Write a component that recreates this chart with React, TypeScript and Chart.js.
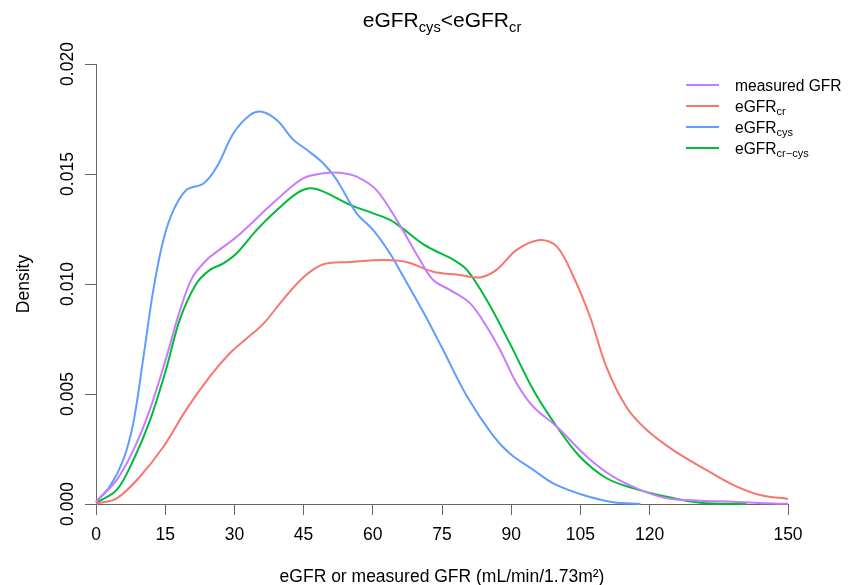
import React, { useEffect, useRef } from "react";
import { Chart, registerables } from "chart.js";

Chart.register(...registerables);

const FONT = "'Liberation Sans', Arial, Helvetica, sans-serif";

const xTickValues = [0, 15, 30, 45, 60, 75, 90, 105, 120, 150];
const yTickValues = [0, 0.005, 0.01, 0.015, 0.02];

const measuredGFR: [number, number][] = [
  [0, 0.0001], [4.5, 0.0011], [8.1, 0.00245], [11.7, 0.0043], [15.3, 0.0067],
  [18.2, 0.0088], [20.9, 0.0103], [24.0, 0.0111], [26.2, 0.01147], [30.5, 0.01215],
  [35.6, 0.01314], [39.9, 0.01397], [44.9, 0.0148], [49.3, 0.01503], [52.9, 0.01506],
  [56.5, 0.01488], [60.8, 0.01427], [65.5, 0.0128], [70.2, 0.0111], [73.1, 0.01018],
  [76.7, 0.00973], [81.1, 0.00912], [84.7, 0.00806], [87.6, 0.007], [91.2, 0.00548],
  [94.8, 0.00442], [99.9, 0.00351], [106.4, 0.00215], [112.1, 0.00124], [118, 0.00064],
  [123.7, 0.00026], [131, 0.00015], [138.2, 0.0001], [145.4, 0.00003], [150, 0.00001],
];

const eGFRcr: [number, number][] = [
  [0, 0.00002], [4.5, 0.00026], [9.5, 0.00124], [14.6, 0.0026], [19.6, 0.0043],
  [24.7, 0.0058], [29, 0.00685], [32.7, 0.00753], [36.3, 0.0082], [40.6, 0.0093],
  [44.9, 0.0103], [49.3, 0.0109], [55.1, 0.011], [62.3, 0.01109], [67.3, 0.011],
  [73.1, 0.01056], [78.9, 0.01041], [83.2, 0.0103], [86.8, 0.01064], [91.2, 0.01155],
  [96.2, 0.012], [99.9, 0.0117], [103.5, 0.01033], [107.1, 0.0085], [110.7, 0.0062],
  [115, 0.0044], [119.4, 0.00336], [125.1, 0.00245], [132.3, 0.00155], [138.2, 0.00086],
  [143.9, 0.00041], [150, 0.00023],
];

const eGFRcys: [number, number][] = [
  [0, 0.0001], [3.0, 0.0008], [5.9, 0.002], [8.1, 0.0037], [10.3, 0.0067],
  [12.4, 0.0097], [14.6, 0.012], [16.8, 0.01336], [19.6, 0.01427], [23.3, 0.01457],
  [26.2, 0.01533], [29.8, 0.01685], [33.4, 0.01768], [35.9, 0.01783], [39.2, 0.01745],
  [42.8, 0.01655], [45.7, 0.0161], [49.3, 0.01548], [52.2, 0.01473], [56.5, 0.01321],
  [60.1, 0.01245], [63.7, 0.0114], [65.9, 0.0106], [71, 0.0087], [75, 0.0071],
  [80.4, 0.0049], [86.1, 0.0031], [89.7, 0.0023], [94.8, 0.00155], [99.1, 0.00094],
  [105.6, 0.00041], [112.1, 0.00008], [118, 0],
];

const eGFRcrcys: [number, number][] = [
  [0, 0.00005], [4.5, 0.00064], [8.1, 0.002], [11.7, 0.0038], [15.3, 0.0062],
  [18.2, 0.0084], [21.8, 0.01003], [24.7, 0.01064], [27.6, 0.01094], [30.5, 0.0114],
  [34.8, 0.01245], [39.2, 0.01336], [43.5, 0.01412], [46.4, 0.01435], [49.3, 0.0142],
  [55.1, 0.0136], [60.1, 0.01321], [63.7, 0.01291], [66.3, 0.01255], [71, 0.0118],
  [74.6, 0.0114], [77.5, 0.0111], [80.4, 0.01064], [84.7, 0.00927], [89.7, 0.0073],
  [94.8, 0.00518], [99.9, 0.00351], [104.9, 0.00215], [110.7, 0.00117], [116.5, 0.00071],
  [123.7, 0.00033], [131, 0.00006], [141, 0],
];

const seriesColors = ["#C77CFF", "#F8766D", "#619CFF", "#00BA38"];
const legendMain = ["measured GFR", "eGFR", "eGFR", "eGFR"];
const legendSub = ["", "cr", "cys", "cr\u2212cys"];
const titleParts: [string, boolean][] = [["eGFR", false], ["cys", true], ["<eGFR", false], ["cr", true]];

type Seg = { text: string; size: number; dy: number };

function drawRich(ctx: CanvasRenderingContext2D, segs: Seg[], x: number, y: number, align: "left" | "center") {
  let total = 0;
  const widths = segs.map((s) => {
    ctx.font = `${s.size}px ${FONT}`;
    const w = ctx.measureText(s.text).width;
    total += w;
    return w;
  });
  let cx = align === "center" ? x - total / 2 : x;
  ctx.textAlign = "left";
  ctx.textBaseline = "alphabetic";
  segs.forEach((s, i) => {
    ctx.font = `${s.size}px ${FONT}`;
    ctx.fillText(s.text, cx, y + s.dy);
    cx += widths[i];
  });
}

const decorPlugin = {
  id: "decor",
  afterDraw(chart: any) {
    const ctx: CanvasRenderingContext2D = chart.ctx;
    const area = chart.chartArea;
    ctx.save();
    ctx.fillStyle = "#000";
    const tSize = 21;
    const tSub = 14.7;
    drawRich(
      ctx,
      titleParts.map(([t, sub]) => ({ text: t, size: sub ? tSub : tSize, dy: sub ? 4.5 : 0 })),
      (area.left + area.right) / 2,
      27,
      "center"
    );
    const lx0 = 686;
    const lx1 = 719;
    const tx = 735;
    for (let i = 0; i < 4; i++) {
      const ly = 85 + i * 21;
      ctx.strokeStyle = seriesColors[i];
      ctx.lineWidth = 2;
      ctx.beginPath();
      ctx.moveTo(lx0, ly);
      ctx.lineTo(lx1, ly);
      ctx.stroke();
      const segs: Seg[] = [{ text: legendMain[i], size: 15.6, dy: 0 }];
      if (legendSub[i]) segs.push({ text: legendSub[i], size: 11, dy: 3.5 });
      drawRich(ctx, segs, tx, ly + 5.5, "left");
    }
    ctx.restore();
  },
};

export default function App() {
  const ref = useRef<HTMLCanvasElement | null>(null);
  useEffect(() => {
    if (!ref.current) return;
    const series = [measuredGFR, eGFRcr, eGFRcys, eGFRcrcys];
    const names = ["measured GFR", "eGFRcr", "eGFRcys", "eGFRcr-cys"];
    const chart = new Chart(ref.current, {
      type: "line",
      data: {
        datasets: series.map((s, i) => ({
          label: names[i],
          data: s.map(([x, y]) => ({ x, y })),
          borderColor: seriesColors[i],
          backgroundColor: seriesColors[i],
          borderWidth: 2,
          pointRadius: 0,
          fill: false,
          tension: 0.35,
          clip: false as any,
        })),
      },
      options: {
        responsive: false,
        animation: false,
        events: [],
        layout: { padding: { top: 64, right: 68, left: 0, bottom: 0 } },
        plugins: {
          legend: { display: false },
          title: { display: false },
          tooltip: { enabled: false },
        },
        scales: {
          x: {
            type: "linear",
            min: 0,
            max: 150,
            afterBuildTicks: (scale: any) => {
              scale.ticks = xTickValues.map((v) => ({ value: v }));
            },
            afterFit: (scale: any) => {
              scale.height = 81;
            },
            grid: { drawOnChartArea: false, drawTicks: true, tickLength: 11, color: "#666", lineWidth: 1 },
            border: { display: true, color: "#666", width: 1 },
            ticks: {
              autoSkip: false,
              maxRotation: 0,
              minRotation: 0,
              padding: 10,
              color: "#000",
              font: { family: FONT, size: 17.5 },
              callback: (v: any) => String(v),
            },
            title: {
              display: true,
              text: "eGFR or measured GFR (mL/min/1.73m\u00B2)",
              color: "#000",
              font: { family: FONT, size: 17.5 },
              padding: { top: 0, bottom: -3 },
            },
          },
          y: {
            type: "linear",
            min: 0,
            max: 0.02,
            afterBuildTicks: (scale: any) => {
              scale.ticks = yTickValues.map((v) => ({ value: v }));
            },
            afterFit: (scale: any) => {
              scale.width = 96;
            },
            grid: { drawOnChartArea: false, drawTicks: true, tickLength: 11, color: "#666", lineWidth: 1 },
            border: { display: true, color: "#666", width: 1 },
            ticks: {
              autoSkip: false,
              minRotation: 90,
              maxRotation: 90,
              crossAlign: "center",
              padding: -5,
              color: "#000",
              font: { family: FONT, size: 17.5 },
              callback: (v: any) => Number(v).toFixed(3),
            },
            title: {
              display: true,
              text: "Density",
              color: "#000",
              font: { family: FONT, size: 17.5 },
              padding: { top: 14, bottom: 0 },
            },
          },
        },
      },
      plugins: [decorPlugin],
    } as any);
    return () => chart.destroy();
  }, []);
  return (
    <div style={{ position: "absolute", left: 0, top: 0, width: 856, height: 585, background: "#fff" }}>
      <canvas ref={ref} width={856} height={585} style={{ display: "block" }} />
    </div>
  );
}
